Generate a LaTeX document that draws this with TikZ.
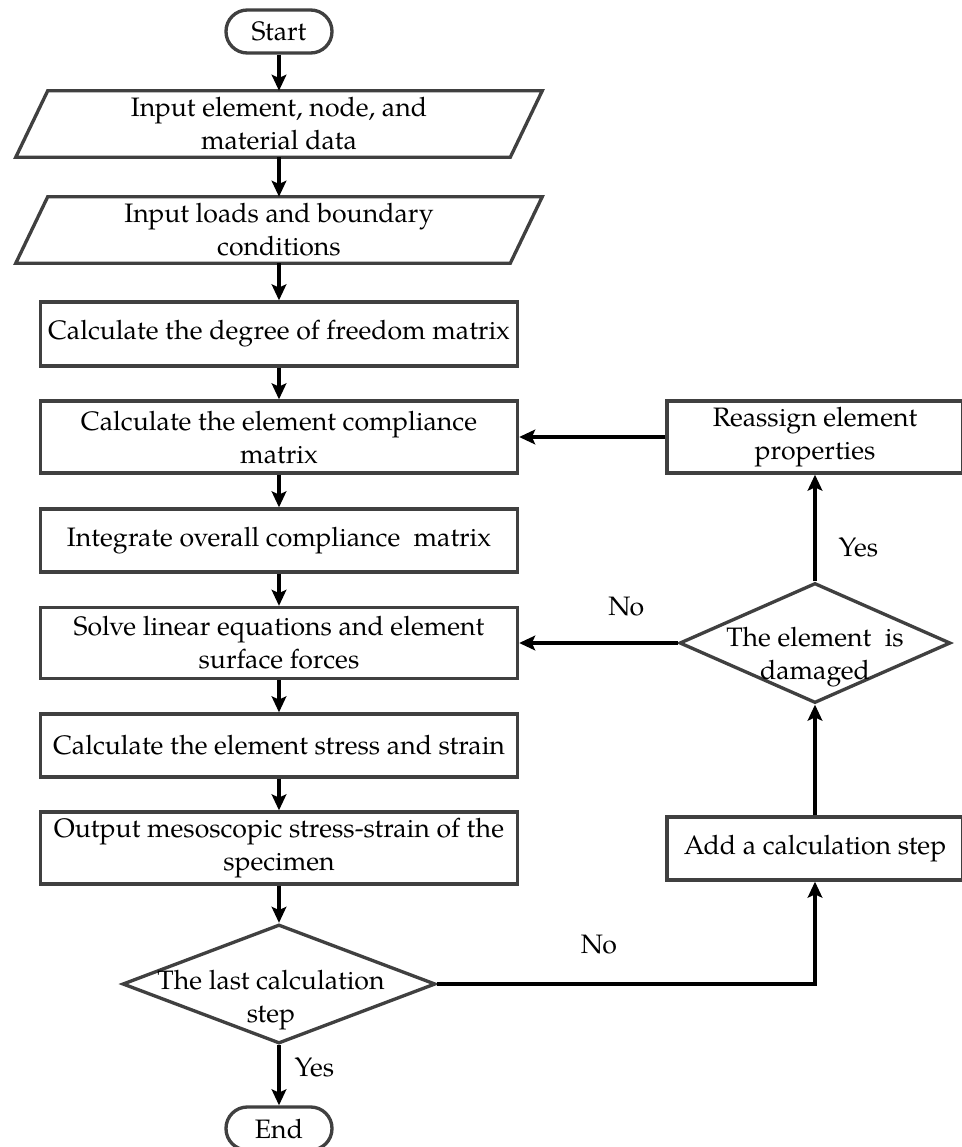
\documentclass[tikz,border=0pt]{standalone}
\usepackage{fontspec}
\setmainfont{texgyrepagella-regular.otf}
\usetikzlibrary{shapes.geometric,arrows.meta,calc}
\definecolor{bord}{HTML}{404040}
\begin{document}
\begin{tikzpicture}[x=0.75pt,y=-0.75pt,
  txt/.style={font=\fontsize{20}{24.75}\selectfont, text=black},
  box/.style={txt, draw=bord, line width=2.5pt, rectangle, align=center, inner sep=0pt},
  term/.style={txt, draw=bord, line width=2.5pt, rectangle, rounded corners=16pt, minimum width=79.5pt, minimum height=32.25pt, inner sep=0pt},
  iobox/.style={txt, align=center, minimum width=394.5pt, minimum height=49.5pt, inner sep=0pt},
  iodraw/.style={draw=bord, line width=2.5pt, line join=miter},
  dec/.style={draw=bord, line width=2.5pt, diamond, inner sep=0pt},
  arr/.style={line width=2.5pt, draw=black, -{Stealth[length=12pt,width=11pt,inset=2.5pt]}},
  lbl/.style={txt, inner sep=0pt}]
\fill[white] (0,0) rectangle (962,1147);
\useasboundingbox (0,0) rectangle (962,1147);

% main column
\node[term] (start) at (279,31.5) {Start};
\node[iobox] (p1) at (279,124) {Input element, node, and\\material data};
\draw[iodraw] ($(p1.north west)+(32,0)$) -- (p1.north east) -- ($(p1.south east)+(-32,0)$) -- (p1.south west) -- cycle;
\node[iobox] (p2) at (279,230) {Input loads and boundary\\conditions};
\draw[iodraw] ($(p2.north west)+(32,0)$) -- (p2.north east) -- ($(p2.south east)+(-32,0)$) -- (p2.south west) -- cycle;
\node[box, minimum width=357.75pt, minimum height=48pt] (b3) at (279,334) {Calculate the degree of freedom matrix};
\node[box, minimum width=357.75pt, minimum height=54pt] (b4) at (279,437) {Calculate the element compliance\\matrix};
\node[box, minimum width=357.75pt, minimum height=47.25pt] (b5) at (279,540.5) {Integrate overall compliance\ \ matrix};
\node[box, minimum width=357.75pt, minimum height=53.25pt] (b6) at (279,643) {Solve linear equations and element\\surface forces};
\node[box, minimum width=357.75pt, minimum height=47.25pt] (b7) at (279,745.5) {Calculate the element stress and strain};
\node[box, minimum width=357.75pt, minimum height=54pt] (b8) at (279,848) {Output mesoscopic stress-strain of the\\specimen};
\node[dec, minimum width=234.75pt, minimum height=89.25pt,
  label={[lbl, align=center, xshift=-6pt, yshift=-12pt]center:The last calculation\\step}] (d1) at (279,984) {};
\node[term] (end) at (279,1128.5) {End};

% right column
\node[box, minimum width=222pt, minimum height=54pt] (ra) at (815,437) {Reassign element\\properties};
\node[dec, minimum width=203.25pt, minimum height=90pt,
  label={[lbl, align=center, yshift=-10.5pt]center:The element\ \ is\\damaged}] (d2) at (815,643) {};
\node[box, minimum width=222pt, minimum height=47.25pt] (add) at (815,848.5) {Add a calculation step};

% connectors
\draw[arr] (start) -- (p1);
\draw[arr] (p1) -- (p2);
\draw[arr] (p2) -- (b3);
\draw[arr] (b3) -- (b4);
\draw[arr] (b4) -- (b5);
\draw[arr] (b5) -- (b6);
\draw[arr] (b6) -- (b7);
\draw[arr] (b7) -- (b8);
\draw[arr] (b8) -- (d1);
\draw[arr] (d1) -- node[lbl, pos=0.37, anchor=west, xshift=10.5pt] (yes1) {Yes} (end);
\draw[arr] (d1.east) -| node[lbl, pos=0.214, anchor=south, yshift=21pt] (no1) {No} (add.south);
\draw[arr] (add) -- (d2);
\draw[arr] (d2) -- node[lbl, pos=0.32, anchor=west, xshift=16.5pt] (yes2) {Yes} (ra);
\draw[arr] (ra) -- (b4);
\draw[arr] (d2) -- node[lbl, pos=0.325, anchor=south, yshift=19pt] (no2) {No} (b6);
\end{tikzpicture}
\end{document}
